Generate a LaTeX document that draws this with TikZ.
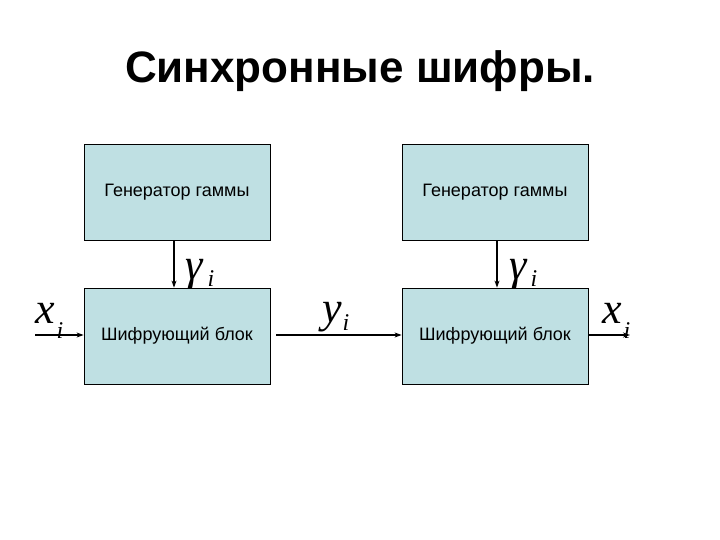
\documentclass[tikz,border=0pt]{standalone}
\usepackage{fontspec}
\setmainfont{Liberation Sans}
\newfontfamily\serifit{Liberation Serif}
\usetikzlibrary{arrows.meta}
\definecolor{boxfill}{RGB}{191,224,227}
\begin{document}
\begin{tikzpicture}[x=1pt,y=-1pt,
  blk/.style={draw=black,line width=0.8pt,fill=boxfill,minimum width=186pt,minimum height=96pt,inner sep=0pt,font=\fontsize{18}{21}\selectfont},
  conn/.style={line width=1.5pt,-{Stealth[length=7pt,width=5pt]}},
  big/.style={inner sep=0pt,anchor=base,font=\fontsize{44}{44}\selectfont\serifit\itshape},
  sub/.style={inner sep=0pt,anchor=base,font=\fontsize{24}{24}\selectfont\serifit\itshape}]
\useasboundingbox (0,0) rectangle (720,540);
\node[inner sep=0pt,font=\fontsize{44}{48}\selectfont\bfseries] (title) at (360,71) {Синхронные шифры.};
\node[blk] (g1) at (177,192) {Генератор гаммы};
\node[blk] (c1) at (177,336) {Шифрующий блок};
\node[blk] (g2) at (495,192) {Генератор гаммы};
\node[blk] (c2) at (495,336) {Шифрующий блок};
\coordinate (in) at (35,335);
\coordinate (out) at (630,335);
\coordinate (m1) at (276,335);
\draw[conn] (in) -- (in -| c1.west);
\draw[conn] (m1) -- (m1 -| c2.west);
\draw[conn] (out -| c2.east) -- (out);
\draw[conn] (g1.south -| 174,0) -- (c1.north -| 174,0);
\draw[conn] (g2.south -| 497,0) -- (c2.north -| 497,0);
\node[big] (xl) at (45,323) {x};
\node[sub] (xli) at (60,338) {i};
\node[big] (gl) at (194,279) {γ};
\node[sub] (gli) at (211,286) {i};
\node[big] (ym) at (332,322) {y};
\node[sub] (ymi) at (346,330) {i};
\node[big] (gr) at (518,279) {γ};
\node[sub] (gri) at (534,286) {i};
\node[big] (xr) at (612,323) {x};
\node[sub] (xri) at (627,338) {i};
\end{tikzpicture}
\end{document}
